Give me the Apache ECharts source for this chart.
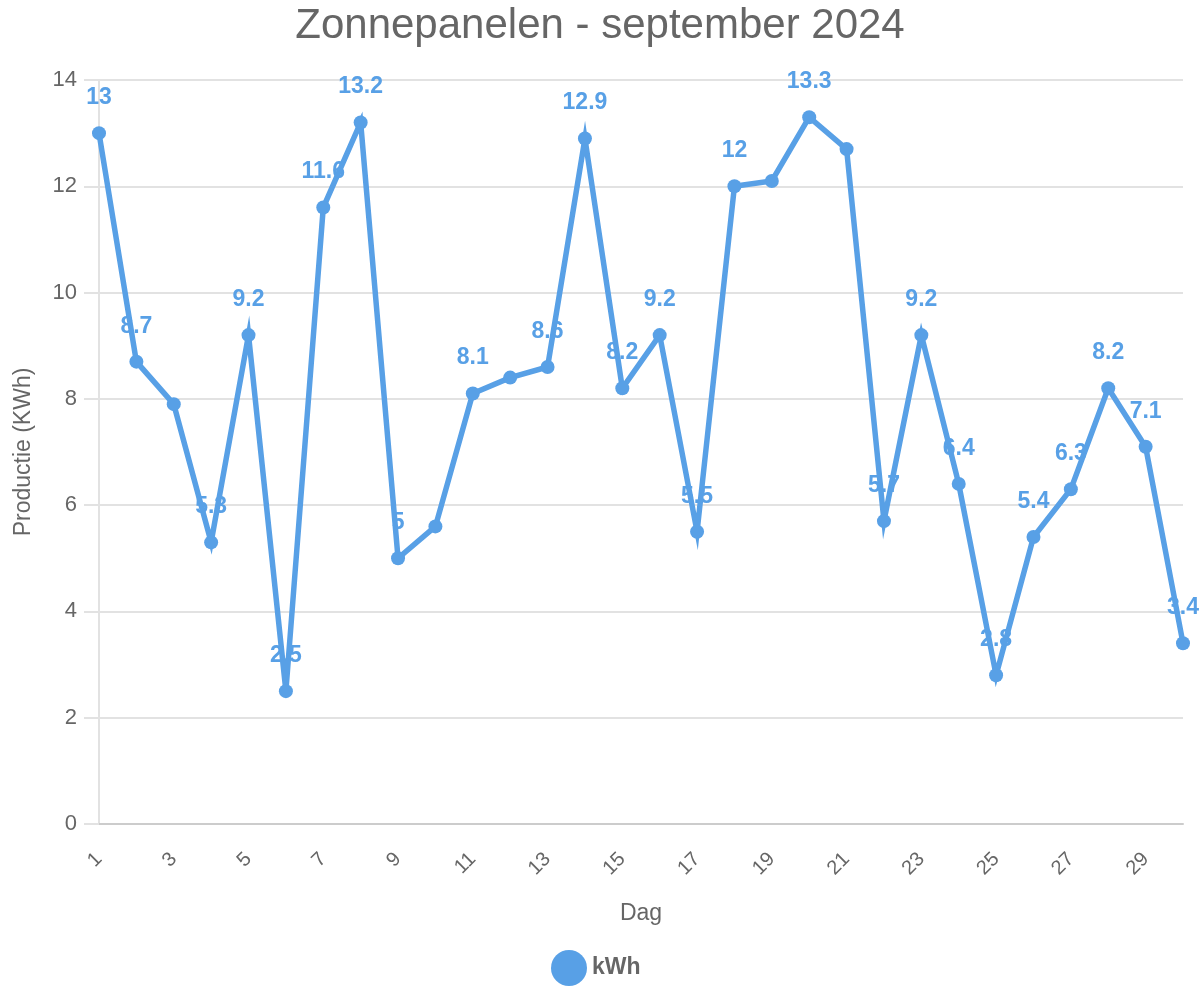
<!DOCTYPE html>
<html>
<head>
<meta charset="utf-8">
<script src="https://cdn.jsdelivr.net/npm/echarts@6/dist/echarts.min.js"></script>
<style>
html,body{margin:0;padding:0;background:#fff;}
#chart{width:1200px;height:1000px;}
</style>
</head>
<body>
<div id="chart"></div>
<script>
const days = ['1','2','3','4','5','6','7','8','9','10','11','12','13','14','15','16','17','18','19','20','21','22','23','24','25','26','27','28','29','30'];
const kwh = [13, 8.7, 7.9, 5.3, 9.2, 2.5, 11.6, 13.2, 5, 5.6, 8.1, 8.4, 8.6, 12.9, 8.2, 9.2, 5.5, 12, 12.1, 13.3, 12.7, 5.7, 9.2, 6.4, 2.8, 5.4, 6.3, 8.2, 7.1, 3.4];
const hiddenLabelDays = ['3','10','12','19','21'];
const yTicks = [0, 2, 4, 6, 8, 10, 12, 14];

const FONT = '"Liberation Sans", Arial, sans-serif';
const BLUE = '#58a0e6';
const GREY = '#666666';

const labelData = kwh.map((v, i) => hiddenLabelDays.includes(days[i]) ? { value: v, label: { show: false } } : v);

const chart = echarts.init(document.getElementById('chart'));
chart.setOption({
  animation: false,
  textStyle: { fontFamily: FONT },
  title: {
    text: 'Zonnepanelen - september 2024',
    left: 'center',
    top: 0,
    textStyle: { fontFamily: FONT, fontSize: 42, fontWeight: 'normal', color: GREY }
  },
  legend: {
    data: ['kWh'],
    top: 945,
    left: 546,
    icon: 'circle',
    itemWidth: 36,
    itemHeight: 36,
    textStyle: { fontFamily: FONT, fontSize: 23, fontWeight: 'bold', color: GREY }
  },
  grid: { left: 99, right: 17, top: 80, bottom: 176, containLabel: false },
  xAxis: {
    type: 'category',
    data: days,
    boundaryGap: false,
    name: 'Dag',
    nameLocation: 'middle',
    nameGap: 78,
    nameTextStyle: { fontFamily: FONT, fontSize: 23, color: GREY },
    axisLine: { show: true, lineStyle: { color: '#cccccc', width: 2 } },
    axisTick: { show: false },
    axisLabel: { interval: 1, rotate: 45, margin: 32, fontFamily: FONT, fontSize: 20, color: GREY },
    splitLine: { show: false }
  },
  yAxis: {
    type: 'value',
    min: yTicks[0],
    max: yTicks[yTicks.length - 1],
    interval: yTicks[1] - yTicks[0],
    name: 'Productie (KWh)',
    nameLocation: 'middle',
    nameGap: 64,
    nameTextStyle: { fontFamily: FONT, fontSize: 23, color: GREY },
    axisLine: { show: true, lineStyle: { color: '#e2e2e2', width: 2 } },
    axisTick: { show: true, length: 15, lineStyle: { color: '#e2e2e2', width: 2 } },
    axisLabel: { margin: 22, fontFamily: FONT, fontSize: 22, color: GREY },
    splitLine: { show: true, lineStyle: { color: '#e2e2e2', width: 2 } }
  },
  series: [
    {
      name: 'labels',
      type: 'line',
      z: 1,
      data: labelData,
      symbol: 'circle',
      symbolSize: 12,
      silent: true,
      itemStyle: { color: 'rgba(0,0,0,0)' },
      lineStyle: { width: 0, color: 'rgba(0,0,0,0)' },
      label: {
        show: true,
        position: 'top',
        distance: 18,
        fontFamily: FONT,
        fontSize: 23,
        fontWeight: 'bold',
        color: BLUE
      }
    },
    {
      name: 'kWh',
      type: 'line',
      z: 2,
      data: kwh,
      symbol: 'circle',
      symbolSize: 14,
      showAllSymbol: true,
      itemStyle: { color: BLUE },
      lineStyle: { color: BLUE, width: 5.5, join: 'miter', miterLimit: 10 },
      label: { show: false }
    }
  ]
});
</script>
</body>
</html>
